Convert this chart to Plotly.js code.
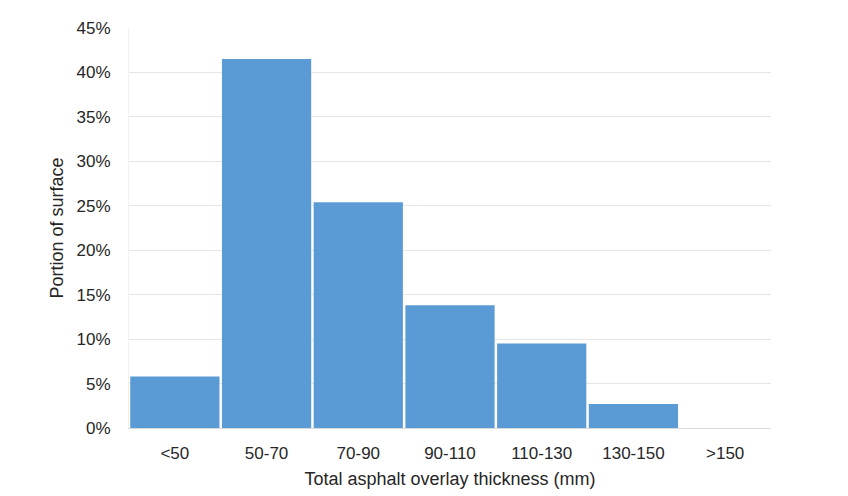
<!DOCTYPE html>
<html><head><meta charset="utf-8">
<script src="https://cdn.plot.ly/plotly-3.0.1.min.js"></script>
<style>html,body{margin:0;padding:0;background:#fff}#chart{width:848px;height:496px}</style>
</head><body><div id="chart"></div>
<script>
var categories = ["<50","50-70","70-90","90-110","110-130","130-150",">150"];
var portion = [0.058,0.415,0.254,0.138,0.095,0.027,0.0];
var yTickVals = [0,0.05,0.1,0.15,0.2,0.25,0.3,0.35,0.4,0.45];
var yTickText = ["0%","5%","10%","15%","20%","25%","30%","35%","40%","45%"];

Plotly.newPlot("chart",[{
  type:"bar", x:categories, y:portion,
  marker:{color:"#5b9bd5"}, hoverinfo:"x+y"
}],{
  width:848,height:496,
  margin:{l:129,r:77,t:28,b:68},
  paper_bgcolor:"#fff",plot_bgcolor:"#fff",
  bargap:0.027,
  font:{family:"Liberation Sans, Arial, sans-serif",size:17,color:"#262626"},
  xaxis:{
    type:"category",
    title:{text:"Total asphalt overlay thickness (mm)",font:{size:18},standoff:9},
    showline:true,linecolor:"#d9d9d9",linewidth:1,
    ticks:"outside",ticklen:10,tickcolor:"rgba(0,0,0,0)",
    showgrid:false,zeroline:false
  },
  yaxis:{
    range:[0,0.45],tickvals:yTickVals,ticktext:yTickText,
    title:{text:"Portion of surface",font:{size:18},standoff:8},
    showgrid:true,gridcolor:"#e6e6e6",gridwidth:1,
    showline:true,linecolor:"#f0f0f0",
    ticks:"outside",ticklen:14,tickcolor:"rgba(0,0,0,0)",
    zeroline:false
  },
  showlegend:false
},{displayModeBar:false,staticPlot:true});
</script></body></html>
